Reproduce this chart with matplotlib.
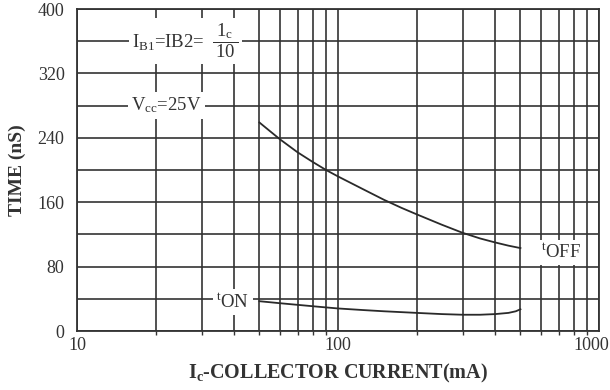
import matplotlib
matplotlib.use("Agg")
import matplotlib.pyplot as plt
import matplotlib.transforms as mtrans
from matplotlib.ticker import LogLocator, FixedLocator, NullFormatter

plt.rcParams['font.family'] = ['Liberation Serif', 'DejaVu Serif']
plt.rcParams['mathtext.fontset'] = 'custom'
plt.rcParams['mathtext.rm'] = 'Liberation Serif'
plt.rcParams['mathtext.it'] = 'Liberation Serif:italic'
plt.rcParams['mathtext.bf'] = 'Liberation Serif:bold'

# Data
toff_ic = [50, 55, 60, 70, 80, 90, 100, 125, 150, 175, 200, 250, 300, 350, 400, 450, 500]
toff_t = [259, 248, 238, 222, 210, 200, 192, 176, 163, 153, 145, 132, 122, 115, 110, 106, 103]
ton_ic = [50, 60, 70, 85, 100, 125, 150, 200, 250, 300, 350, 400, 450, 480, 500]
ton_t = [37, 34.5, 32.5, 30, 28, 26, 24.5, 22.5, 21, 20.2, 20.2, 21, 22.5, 24.5, 27]
y_ticks = [0, 80, 160, 240, 320, 400]
x_ticks = [10, 100, 1000]
x_ticklabels = ['10', '100', '1000']

GRID = '#333333'
TXT = '#333333'
fig = plt.figure(figsize=(6.10, 3.90), dpi=100)
ax = fig.add_axes([77/610, 1-331/390, (599-77)/610, (331-9)/390])
ax.set_xscale('log')
ax.set_xlim(10, 1000)
ax.set_ylim(0, 400)

ax.set_xticks(x_ticks)
ax.set_xticklabels(x_ticklabels)
ax.xaxis.set_minor_locator(LogLocator(base=10, subs=range(2, 10)))
ax.xaxis.set_minor_formatter(NullFormatter())
ax.set_yticks(y_ticks)
ax.yaxis.set_minor_locator(FixedLocator([40, 120, 200, 280, 360]))

ax.grid(True, which='both', color=GRID, linewidth=1.2, zorder=1)
for s in ax.spines.values():
    s.set_color(GRID)
    s.set_linewidth(1.3)
ax.tick_params(axis='both', which='both', labelsize=13, colors=GRID,
               labelcolor=TXT, width=1.0)
ax.tick_params(axis='y', which='both', length=0, pad=9)
ax.tick_params(axis='x', which='major', length=0, pad=4)
ax.tick_params(axis='x', which='minor', length=3, direction='out')

# shift the last x tick label so it stays inside the figure
last = ax.get_xticklabels()[-1]
last.set_transform(last.get_transform() + mtrans.ScaledTranslation(-8/100, 0, fig.dpi_scale_trans))

ax.plot(toff_ic, toff_t, color='#2a2a2a', linewidth=1.3, zorder=3)
ax.plot(ton_ic, ton_t, color='#2a2a2a', linewidth=1.3, zorder=3)

box = dict(facecolor='white', edgecolor='none', pad=2.5)
ax.text(26.0, 360, r'$\mathrm{I_{B1}}$=IB2=  $\mathrm{\dfrac{\,1_c\,}{\,10\,}}$', fontsize=13.5,
        ha='center', va='center', bbox=box, zorder=4, color=TXT)
ax.text(22, 280, r'$\mathrm{V_{cc}}$=25V', fontsize=13.5,
        ha='center', va='center', bbox=box, zorder=4, color=TXT)
ax.text(39.5, 36, r'$^{\mathrm{t}}\mathrm{ON}$', fontsize=13.5,
        ha='center', va='center', bbox=box, zorder=4, color=TXT)
ax.text(715, 98, r'$^{\mathrm{t}}\mathrm{OFF}$', fontsize=13.5,
        ha='center', va='center', bbox=box, zorder=4, color=TXT)

ax.set_ylabel('TIME (nS)', fontsize=14, fontweight='bold', color=TXT, labelpad=8)
ax.set_xlabel(r'$\mathbf{I_c}$-COLLECTOR CURRENT(mA)', fontsize=14.5, fontweight='bold',
              color=TXT, labelpad=6)

fig.savefig('out.png', dpi=100)
